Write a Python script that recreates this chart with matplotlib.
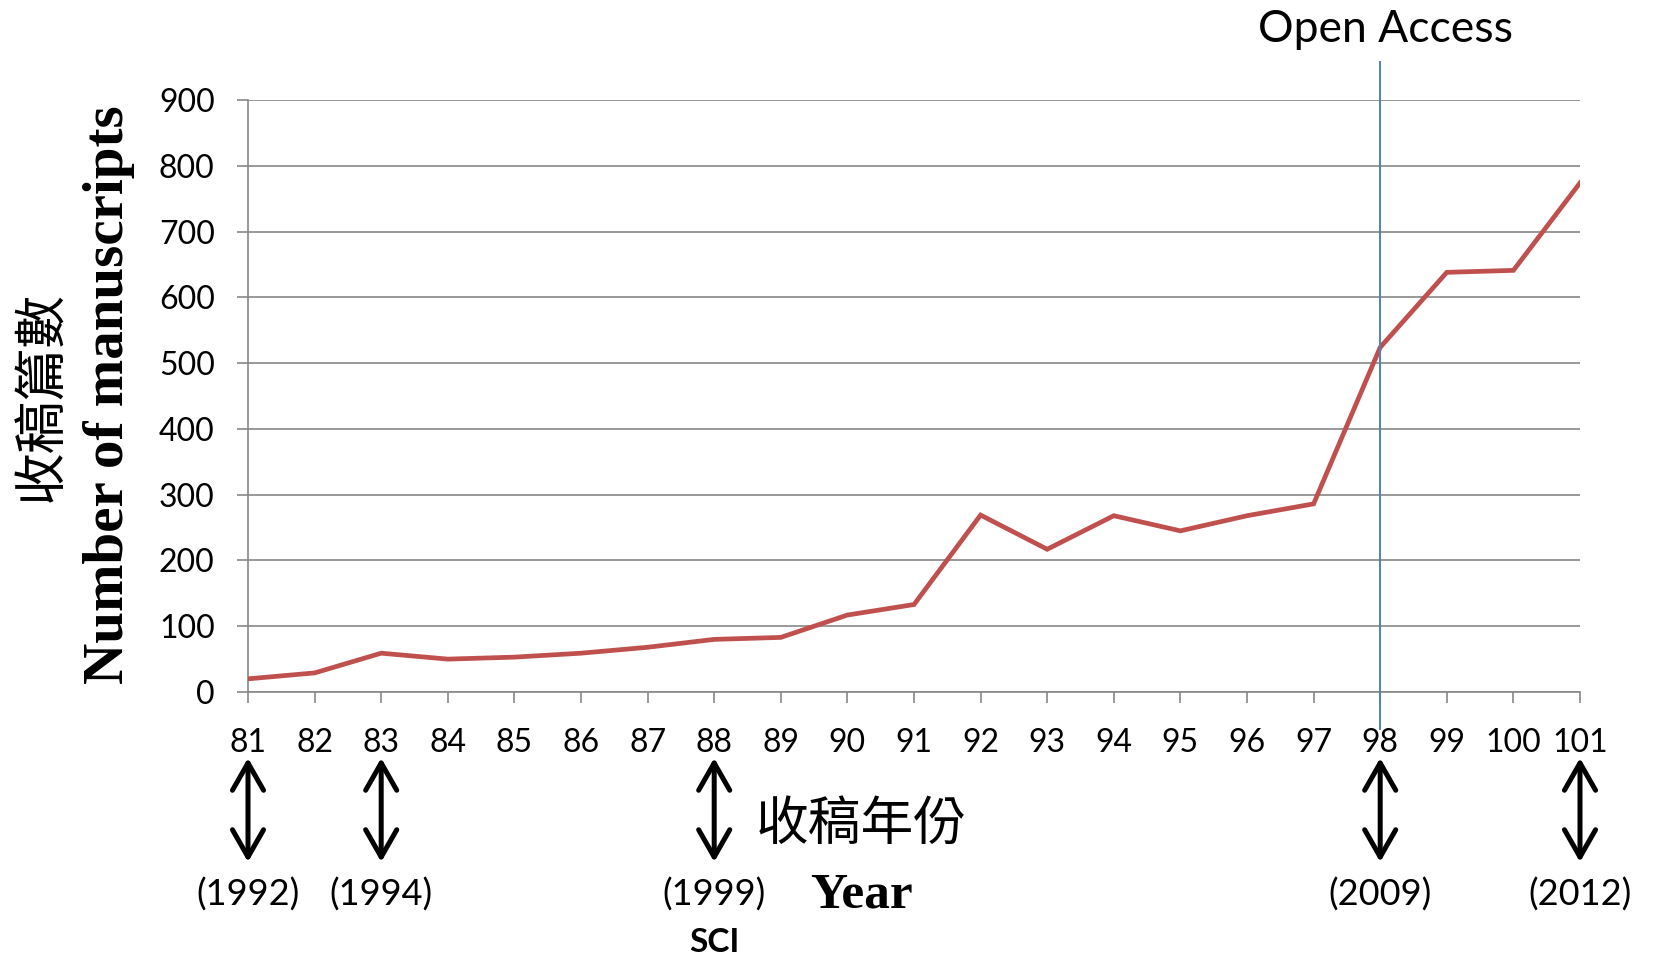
import matplotlib
matplotlib.use("Agg")
import matplotlib.pyplot as plt

years = list(range(81, 102))
manuscripts = [20, 29, 59, 50, 53, 59, 68, 80, 83, 117, 133, 269, 217, 268, 245, 268, 286, 524, 638, 641, 774]
yticks = [0, 100, 200, 300, 400, 500, 600, 700, 800, 900]
marked_years = [81, 83, 88, 98, 101]
marked_labels = ["(1992)", "(1994)", "(1999)", "(2009)", "(2012)"]
open_access_year = 98

W, H = 1656, 959
fig = plt.figure(figsize=(W / 100, H / 100), dpi=100)
ax = fig.add_axes([248 / W, 1 - 692 / H, 1332 / W, 592 / H])

grey = "#878787"
ax.plot(years, manuscripts, color="#C0504D", lw=3.4, solid_joinstyle="miter", zorder=3)
ax.set_xlim(81, 101)
ax.set_ylim(0, 900)
ax.set_xticks(years)
ax.set_xticklabels([str(y) for y in years])
ax.set_yticks(yticks)
ax.yaxis.grid(True, color=grey, lw=1.2)
ax.set_axisbelow(True)
for s in ["top", "right"]:
    ax.spines[s].set_visible(False)
for s in ["left", "bottom"]:
    ax.spines[s].set_color(grey)
    ax.spines[s].set_linewidth(1.2)
ax.tick_params(axis="both", direction="out", length=8, width=1.2, color=grey,
               labelsize=23, labelcolor="black")
ax.tick_params(axis="y", pad=16)
ax.tick_params(axis="x", pad=18)
for lab in ax.get_xticklabels() + ax.get_yticklabels():
    lab.set_family("Lato")

# Open Access line
ax.axvline(open_access_year, ymin=-(729 - 692) / 592, ymax=(692 - 62) / 592,
           color="#4F81BD", lw=1.4, clip_on=False, zorder=4)
fig.text(1385 / W, 1 - 29 / H, "Open Access", family="Lato", fontsize=32,
         ha="center", va="center")

# arrows and year labels
for yr, lab in zip(marked_years, marked_labels):
    ax.annotate("", xy=(yr, 1 - 862 / H), xytext=(yr, 1 - 758 / H),
                xycoords=("data", "figure fraction"),
                textcoords=("data", "figure fraction"),
                arrowprops=dict(arrowstyle="<->,head_length=0.7,head_width=0.4",
                                lw=3.6, color="black", mutation_scale=28,
                                shrinkA=0, shrinkB=0),
                annotation_clip=False)
    ax.annotate(lab, xy=(yr, 1 - 895 / H), xycoords=("data", "figure fraction"),
                ha="center", va="center", family="Lato", fontsize=26,
                annotation_clip=False)

ax.annotate("SCI", xy=(88, 1 - 942 / H), xycoords=("data", "figure fraction"),
            ha="center", va="center", family="Lato", fontsize=24, fontweight="bold",
            annotation_clip=False)

fig.text(861 / W, 1 - 824 / H, "收稿年份", family=["Noto Sans CJK TC", "DejaVu Sans"],
         fontsize=38, ha="center", va="center")
fig.text(861 / W, 1 - 896 / H, "Year", family="Liberation Serif", fontweight="bold",
         fontsize=37, ha="center", va="center")

fig.text(109 / W, 1 - 395 / H, "Number of manuscripts", family="Liberation Serif",
         fontweight="bold", fontsize=41, rotation=90, ha="center", va="center")
fig.text(42 / W, 1 - 397 / H, "收稿篇數", family=["Noto Sans CJK TC", "DejaVu Sans"],
         fontsize=38, rotation=90, ha="center", va="center")

fig.savefig("out.png", dpi=100)
